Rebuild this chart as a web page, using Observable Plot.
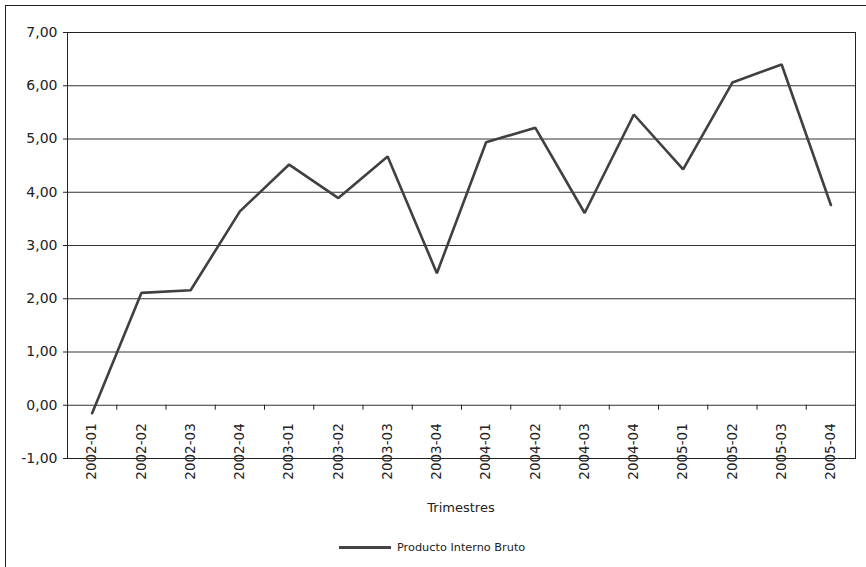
<!DOCTYPE html>
<html>
<head>
<meta charset="utf-8">
<script src="https://cdn.jsdelivr.net/npm/d3@7"></script>
<script src="https://cdn.jsdelivr.net/npm/@observablehq/plot@0.6"></script>
<style>
  html, body { margin: 0; padding: 0; background: #fff; }
  body { width: 866px; height: 567px; position: relative; overflow: hidden; font-family: "DejaVu Sans", sans-serif; }
  #border { position: absolute; left: 5px; top: 5px; width: 900px; height: 600px; border-left: 1px solid #222; border-top: 1px solid #222; }
  #chart { position: absolute; left: 0; top: 0; }
  #xlabel { position: absolute; left: 67px; width: 788px; top: 500px; text-align: center; font-size: 13px; color: #222; }
  #legend { position: absolute; left: 339px; top: 541px; display: flex; align-items: center; font-size: 11.3px; color: #222; }
  #legend .sw { width: 52px; height: 0; border-top: 3px solid #444; margin-right: 6px; }
</style>
</head>
<body>
<div id="border"></div>
<div id="chart"></div>
<div id="xlabel">Trimestres</div>
<div id="legend"><span class="sw"></span><span>Producto Interno Bruto</span></div>
<script>
const categories = ["2002-01","2002-02","2002-03","2002-04","2003-01","2003-02","2003-03","2003-04",
                    "2004-01","2004-02","2004-03","2004-04","2005-01","2005-02","2005-03","2005-04"];
const pib = [-0.15, 2.11, 2.16, 3.64, 4.52, 3.89, 4.67, 2.48, 4.94, 5.21, 3.61, 5.46, 4.43, 6.06, 6.40, 3.76];
const yTicks = [-1, 0, 1, 2, 3, 4, 5, 6, 7];
const xAxisCross = 0;

const data = categories.map((c, i) => ({i, c, v: pib[i]}));
const boundaries = d3.range(1, categories.length);
const fmt = d => d.toFixed(2).replace(".", ",");

const chart = Plot.plot({
  width: 866,
  height: 490,
  marginLeft: 67,
  marginRight: 11,
  marginTop: 32,
  marginBottom: 32,
  style: {fontFamily: "DejaVu Sans, sans-serif", background: "transparent", color: "#222"},
  x: {domain: [0, categories.length], axis: null, label: null},
  y: {domain: [-1, 7], axis: null, label: null},
  marks: [
    Plot.ruleY(yTicks, {stroke: "#333", strokeWidth: 1}),
    Plot.frame({stroke: "#222", strokeWidth: 1}),
    Plot.axisY(yTicks, {tickFormat: fmt, tickSize: 4, tickPadding: 6, fontSize: 14, stroke: "#222", fill: "#222", label: null}),
    Plot.ruleX(boundaries, {x: d => d, y1: xAxisCross, y2: xAxisCross, insetBottom: -5, stroke: "#222"}),
    Plot.text(data, {x: d => d.i + 0.5, y: () => xAxisCross, text: "c", rotate: -90, textAnchor: "end", dy: 18, fontSize: 13.5, fill: "#222"}),
    Plot.line(data, {x: d => d.i + 0.5, y: "v", stroke: "#404040", strokeWidth: 2.6, strokeLinejoin: "miter"})
  ]
});
document.getElementById("chart").appendChild(chart);
</script>
</body>
</html>
